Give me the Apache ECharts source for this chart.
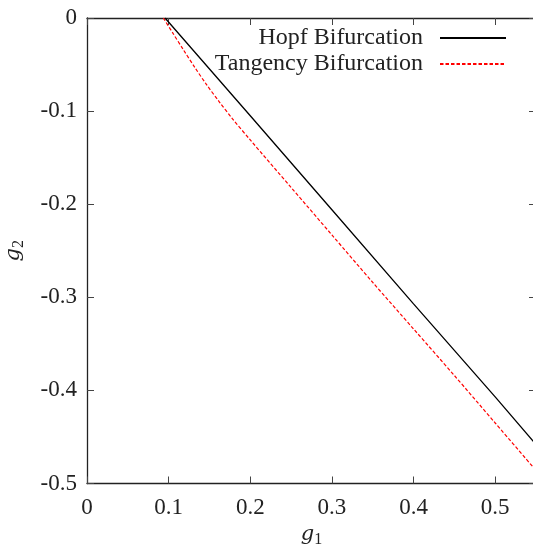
<!DOCTYPE html>
<html>
<head>
<meta charset="utf-8">
<script src="https://cdn.jsdelivr.net/npm/echarts@6/dist/echarts.min.js"></script>
<style>
  html, body { margin: 0; padding: 0; background: #fff; }
  #chart { width: 533px; height: 545px; }
</style>
</head>
<body>
<div id="chart"></div>
<script>
// Bifurcation curves in the (g1, g2) parameter plane
const seriesNames = ['Hopf Bifurcation', 'Tangency Bifurcation'];

const hopfG1 = [0.0956, 0.2, 0.3, 0.4, 0.5, 0.55];
const hopfG2 = [0, -0.105, -0.206, -0.307, -0.407, -0.458];

const tangencyG1 = [0.0935, 0.105, 0.118, 0.132, 0.146, 0.162, 0.178, 0.20, 0.25, 0.30, 0.35, 0.40, 0.45, 0.50, 0.55];
const tangencyG2 = [0, -0.016, -0.034, -0.053, -0.071, -0.090, -0.108, -0.131, -0.182, -0.233, -0.284, -0.334, -0.384, -0.435, -0.486];

const xTicks = [0, 0.1, 0.2, 0.3, 0.4, 0.5];
const yTicks = [0, -0.1, -0.2, -0.3, -0.4, -0.5];

const FONT = 'Liberation Serif';
const INK = '#222';

function pairs(xs, ys) {
  return xs.map((x, i) => [x, ys[i]]);
}

const frameLine = { show: true, onZero: false, lineStyle: { color: '#222', width: 1.3 } };
const innerTick = { show: true, inside: true, length: 7, lineStyle: { color: '#444', width: 1 } };

const nameRich = {
  g: { fontFamily: 'DejaVu Serif', fontStyle: 'italic', fontSize: 21, color: INK },
  s: { fontFamily: FONT, fontSize: 16, color: INK, padding: [10, 0, 0, 0] }
};

const chart = echarts.init(document.getElementById('chart'), null, { renderer: 'canvas' });

chart.setOption({
  animation: false,
  backgroundColor: '#fff',
  grid: {
    left: 87, top: 18, right: -3, bottom: 61.5,
    outerBoundsMode: 'none',
    containLabel: false
  },
  legend: {
    orient: 'vertical',
    align: 'right',
    right: 21,
    top: 21,
    itemWidth: 66,
    itemHeight: 12,
    itemGap: 2,
    data: seriesNames,
    formatter: name => name + '  ',
    // line-only keys: hide the marker dot drawn on the key line
    itemStyle: { opacity: 0 },
    textStyle: { fontFamily: FONT, fontSize: 24, color: INK }
  },
  xAxis: [
    {
      type: 'value', position: 'bottom',
      min: 0, max: 0.55, interval: 0.1,
      axisLine: frameLine, axisTick: innerTick,
      splitLine: { show: false },
      axisLabel: {
        fontFamily: FONT, fontSize: 23, color: INK, margin: 13,
        showMaxLabel: false,
        formatter: v => (xTicks.some(t => Math.abs(t - v) < 1e-9) ? String(+v.toFixed(1)) : '')
      },
      name: '{g|g}{s|1}',
      nameLocation: 'middle',
      nameGap: 30,
      nameTextStyle: { rich: nameRich }
    },
    {
      type: 'value', position: 'top',
      min: 0, max: 0.55, interval: 0.1,
      axisLine: frameLine, axisTick: innerTick,
      splitLine: { show: false },
      axisLabel: { show: false }
    }
  ],
  yAxis: [
    {
      type: 'value', position: 'left',
      min: -0.5, max: 0, interval: 0.1,
      axisLine: frameLine, axisTick: innerTick,
      splitLine: { show: false },
      axisLabel: {
        fontFamily: FONT, fontSize: 23, color: INK, margin: 10,
        formatter: v => (yTicks.some(t => Math.abs(t - v) < 1e-9) ? String(+v.toFixed(1)) : '')
      },
      name: '{g|g}{s|2}',
      nameLocation: 'middle',
      nameGap: 60,
      nameRotate: 90,
      nameTextStyle: { rich: nameRich }
    },
    {
      type: 'value', position: 'right',
      min: -0.5, max: 0, interval: 0.1,
      axisLine: frameLine, axisTick: innerTick,
      splitLine: { show: false },
      axisLabel: { show: false }
    }
  ],
  series: [
    {
      name: seriesNames[0],
      type: 'line',
      data: pairs(hopfG1, hopfG2),
      symbol: 'none',
      lineStyle: { color: '#000', width: 1.3 },
      itemStyle: { color: '#000' },
      clip: true
    },
    {
      name: seriesNames[1],
      type: 'line',
      data: pairs(tangencyG1, tangencyG2),
      symbol: 'none',
      smooth: 0.3,
      lineStyle: { color: '#ff0000', width: 1.2, type: [3.5, 2] },
      itemStyle: { color: '#ff0000' },
      clip: true
    }
  ]
});
</script>
</body>
</html>
